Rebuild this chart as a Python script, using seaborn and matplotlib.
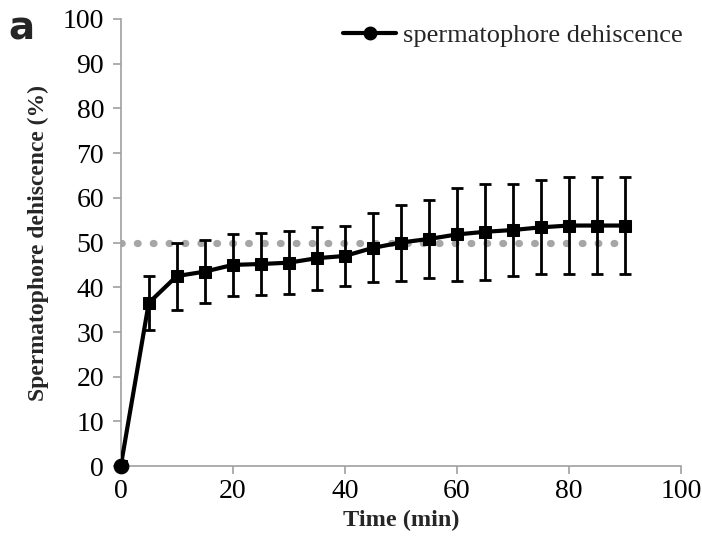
import matplotlib
matplotlib.use("Agg")
import matplotlib.pyplot as plt
import seaborn as sns
import pandas as pd
from matplotlib.lines import Line2D

time = [0, 5, 10, 15, 20, 25, 30, 35, 40, 45, 50, 55, 60, 65, 70, 75, 80, 85, 90]
dehiscence = [0, 36.5, 42.5, 43.5, 45, 45.2, 45.5, 46.5, 47, 48.8, 50, 50.8, 51.8, 52.4, 52.8, 53.4, 53.8, 53.8, 53.8]
err = [0, 6, 7.5, 7, 7, 7, 7, 7, 6.8, 7.7, 8.5, 8.7, 10.3, 10.7, 10.3, 10.5, 10.8, 10.8, 10.8]
ref_x = [0, 90]
ref_y = [50, 50]

df = pd.DataFrame({"time": time, "value": dehiscence, "err": err})

sns.set_theme(style="white")
plt.rcParams["font.family"] = ["Liberation Serif", "DejaVu Serif"]

fig = plt.figure(figsize=(7.02, 5.55), dpi=100)
ax = fig.add_axes([0.172, 0.160, 0.798, 0.806])

# reference dotted line at 50 %
ax.plot(ref_x, ref_y, color="#a6a6a6", linewidth=5.2, linestyle=(0, (0.1, 2.1)),
        dash_capstyle="round", zorder=1)

ax.errorbar(df["time"], df["value"], yerr=df["err"], fmt="none", ecolor="black",
            elinewidth=2, capsize=4.5, capthick=2, zorder=2)
sns.lineplot(data=df, x="time", y="value", ax=ax, color="black", linewidth=3,
             marker="s", markersize=9, markeredgecolor="black", zorder=3)
sns.scatterplot(x=time[:1], y=dehiscence[:1], ax=ax, color="black", s=110,
                marker="o", edgecolor="black", zorder=4, clip_on=False)

ax.set_xlim(0, 100)
ax.set_ylim(0, 100)
ax.set_xticks(range(0, 101, 20))
ax.set_yticks(range(0, 101, 10))
for s in ["top", "right"]:
    ax.spines[s].set_visible(False)
for s in ["left", "bottom"]:
    ax.spines[s].set_color("#a0a0a0")
    ax.spines[s].set_linewidth(1.2)
ax.tick_params(axis="both", direction="out", length=6, width=1.2, color="#a0a0a0",
               labelsize=20, labelcolor="black", bottom=True, left=True)
ax.tick_params(axis="y", pad=6)
ax.set_xlabel("Time (min)", fontsize=17.5, fontweight="bold", labelpad=4)
ax.set_ylabel("Spermatophore dehiscence (%)", fontsize=17, fontweight="bold", labelpad=10)

handle = Line2D([0], [0], color="black", linewidth=3, marker="o", markersize=9)
ax.legend([handle], ["spermatophore dehiscence"], loc="upper right", frameon=False,
          fontsize=19, bbox_to_anchor=(1.045, 1.042), handlelength=2.0, handletextpad=0.25)

fig.text(0.012, 0.928, "a", fontsize=28, fontweight="bold", family="DejaVu Sans")

fig.savefig("out.png", dpi=100)
